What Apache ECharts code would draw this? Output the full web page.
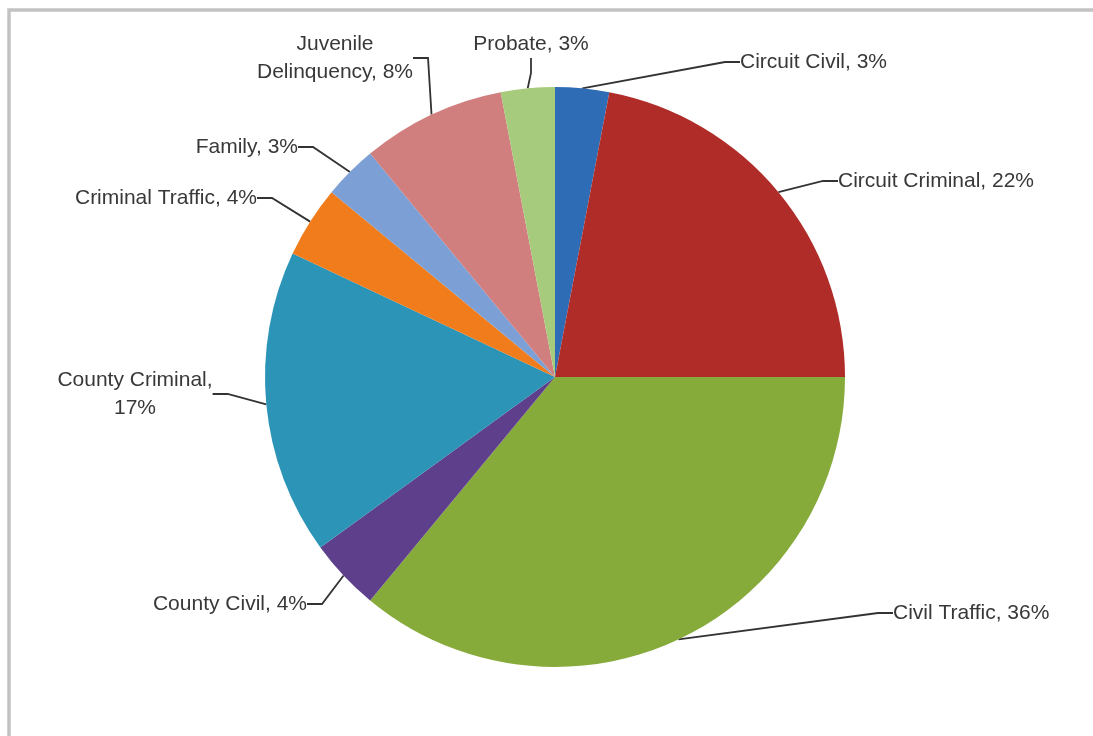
<!DOCTYPE html>
<html>
<head>
<meta charset="utf-8">
<title>Case Filings by Division</title>
<script src="https://cdn.jsdelivr.net/npm/echarts@6/dist/echarts.min.js"></script>
<style>
  html, body { margin: 0; padding: 0; background: #ffffff; }
  #chart { width: 1093px; height: 736px; }
</style>
</head>
<body>
<div id="chart"></div>
<script>
// Share of filings per court division (percent)
const categories = [
  'Circuit Civil', 'Circuit Criminal', 'Civil Traffic', 'County Civil',
  'County Criminal', 'Criminal Traffic', 'Family', 'Juvenile Delinquency', 'Probate'
];
const shares = [3, 22, 36, 4, 17, 4, 3, 8, 3];

// Label text as it is broken across lines
const labelTexts = [
  'Circuit Civil, 3%', 'Circuit Criminal, 22%', 'Civil Traffic, 36%', 'County Civil, 4%',
  'County Criminal,\n17%', 'Criminal Traffic, 4%', 'Family, 3%', 'Juvenile\nDelinquency, 8%', 'Probate, 3%'
];

// Slice colours
const sliceColors = [
  '#2f6cb6', '#b02c28', '#87ab3a', '#5d3f8b', '#2c94b6',
  '#f07c1c', '#7c9fd5', '#d07e7e', '#a7cb7c'
];

// Where each label box sits and how it is aligned
const labelPlacement = [
  { x: 740, y: 62, align: 'left' },
  { x: 838, y: 181, align: 'left' },
  { x: 893, y: 613, align: 'left' },
  { x: 307, y: 604, align: 'right' },
  { x: 135, y: 394, align: 'center' },
  { x: 257, y: 198, align: 'right' },
  { x: 298, y: 147, align: 'right' },
  { x: 335, y: 58, align: 'center' },
  { x: 531, y: 44, align: 'center' }
];

const chart = echarts.init(document.getElementById('chart'), null, { renderer: 'canvas' });

const pieData = categories.map((name, i) => ({
  name: name,
  value: shares[i],
  itemStyle: { color: sliceColors[i] },
  label: { formatter: labelTexts[i], align: labelPlacement[i].align }
}));

chart.setOption({
  animation: false,
  backgroundColor: '#ffffff',
  graphic: [{
    type: 'rect',
    silent: true,
    shape: { x: 9, y: 10, width: 1120, height: 800 },
    style: { fill: 'none', stroke: '#c2c2c2', lineWidth: 3.5 }
  }],
  series: [{
    type: 'pie',
    center: [555, 377],
    radius: 290,
    startAngle: 90,
    clockwise: true,
    avoidLabelOverlap: false,
    data: pieData,
    itemStyle: { borderWidth: 0 },
    label: {
      show: true,
      position: 'outside',
      fontFamily: 'Liberation Sans',
      fontSize: 21,
      lineHeight: 28,
      color: '#383838'
    },
    labelLine: {
      show: true,
      length: 15,
      length2: 15,
      lineStyle: { color: '#333333', width: 1.8 }
    },
    labelLayout: function (params) {
      const p = labelPlacement[params.dataIndex];
      return { x: p.x, y: p.y, align: p.align, verticalAlign: 'middle' };
    }
  }]
});
</script>
</body>
</html>
